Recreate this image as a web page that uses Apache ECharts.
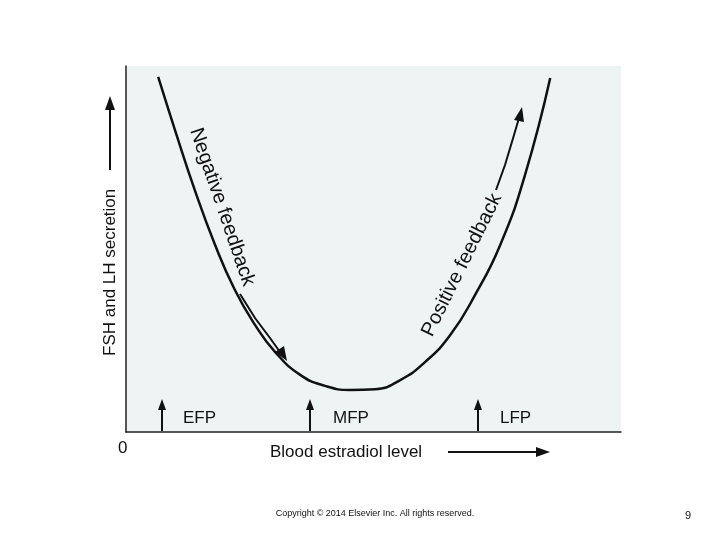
<!DOCTYPE html>
<html>
<head>
<meta charset="utf-8">
<script src="https://cdn.jsdelivr.net/npm/echarts@6/dist/echarts.min.js"></script>
<style>html,body{margin:0;padding:0;background:#fff}#chart{width:720px;height:540px}</style>
</head>
<body>
<div id="chart"></div>
<script>
// estradiol level (0-100) vs FSH/LH secretion (0-100)
var estradiol = [6.5, 9.9, 13.9, 18.0, 22.0, 26.1, 30.1, 35.2, 40.2, 45.3, 50.3, 55.4, 60.4, 65.5, 70.5, 75.6, 80.6, 85.7];
var secretion = [97.0, 82.5, 66.1, 51.1, 38.8, 29.2, 21.9, 15.6, 12.6, 11.5, 11.7, 14.2, 19.1, 26.5, 37.4, 51.1, 70.2, 96.7];
var phases = ["EFP", "MFP", "LFP"];
var phaseX = [183, 333, 500];
var phaseArrowX = [162, 310, 478];

var curve = estradiol.map(function (x, i) { return [x, secretion[i]]; });
var font = "Liberation Sans, Arial, sans-serif";

var graphics = [];
phases.forEach(function (p, i) {
    graphics.push({ type: "line", shape: { x1: phaseArrowX[i], y1: 431, x2: phaseArrowX[i], y2: 406 }, style: { stroke: "#111", lineWidth: 2 } });
    graphics.push({ type: "polygon", shape: { points: [[phaseArrowX[i] - 4, 410], [phaseArrowX[i] + 4, 410], [phaseArrowX[i], 399]] }, style: { fill: "#111" } });
    graphics.push({ type: "text", x: phaseX[i], y: 418, style: { text: p, font: "17px " + font, fill: "#111", verticalAlign: "middle" } });
});
graphics = graphics.concat([
    { type: "text", x: 118, y: 448, style: { text: "0", font: "17px " + font, fill: "#111", verticalAlign: "middle" } },
    { type: "text", x: 270, y: 452, style: { text: "Blood estradiol level", font: "17px " + font, fill: "#111", verticalAlign: "middle" } },
    { type: "line", shape: { x1: 448, y1: 452, x2: 540, y2: 452 }, style: { stroke: "#111", lineWidth: 2 } },
    { type: "polygon", shape: { points: [[536, 447], [536, 457], [550, 452]] }, style: { fill: "#111" } },
    { type: "text", x: 110, y: 356, rotation: Math.PI / 2, style: { text: "FSH and LH secretion", font: "17px " + font, fill: "#111", verticalAlign: "middle" } },
    { type: "line", shape: { x1: 110, y1: 170, x2: 110, y2: 105 }, style: { stroke: "#111", lineWidth: 2 } },
    { type: "polygon", shape: { points: [[105, 110], [115, 110], [110, 96]] }, style: { fill: "#111" } },
    { type: "text", x: 222, y: 207, rotation: -1.24, style: { text: "Negative feedback", font: "20px " + font, fill: "#111", align: "center", verticalAlign: "middle" } },
    { type: "text", x: 462, y: 265, rotation: 1.11, style: { text: "Positive feedback", font: "20px " + font, fill: "#111", align: "center", verticalAlign: "middle" } },
    { type: "polyline", shape: { points: [[240, 294], [255, 318], [270, 338], [280, 352]] }, style: { stroke: "#111", lineWidth: 2, fill: null } },
    { type: "polygon", shape: { points: [[275, 352], [284, 346], [287, 361]] }, style: { fill: "#111" } },
    { type: "polyline", shape: { points: [[496, 190], [505, 165], [514, 135], [519, 118]] }, style: { stroke: "#111", lineWidth: 2, fill: null } },
    { type: "polygon", shape: { points: [[514, 120], [524, 122], [522, 107]] }, style: { fill: "#111" } },
    { type: "text", x: 375, y: 514, style: { text: "Copyright © 2014 Elsevier Inc. All rights reserved.", font: "9px " + font, fill: "#111", align: "center", verticalAlign: "middle" } },
    { type: "text", x: 688, y: 516, style: { text: "9", font: "11px " + font, fill: "#111", align: "center", verticalAlign: "middle" } }
]);

var myChart = echarts.init(document.getElementById("chart"));
myChart.setOption({
    animation: false,
    grid: { left: 126, right: 99, top: 66, bottom: 108, show: true, backgroundColor: "#eef4f3", borderWidth: 0 },
    xAxis: { type: "value", min: 0, max: 100, axisLine: { lineStyle: { color: "#222", width: 1.5 } }, axisTick: { show: false }, axisLabel: { show: false }, splitLine: { show: false } },
    yAxis: { type: "value", min: 0, max: 100, axisLine: { show: true, lineStyle: { color: "#222", width: 1.5 } }, axisTick: { show: false }, axisLabel: { show: false }, splitLine: { show: false } },
    series: [{ type: "line", data: curve, smooth: true, symbol: "none", lineStyle: { color: "#111", width: 2.5 } }],
    graphic: graphics
});
</script>
</body>
</html>
